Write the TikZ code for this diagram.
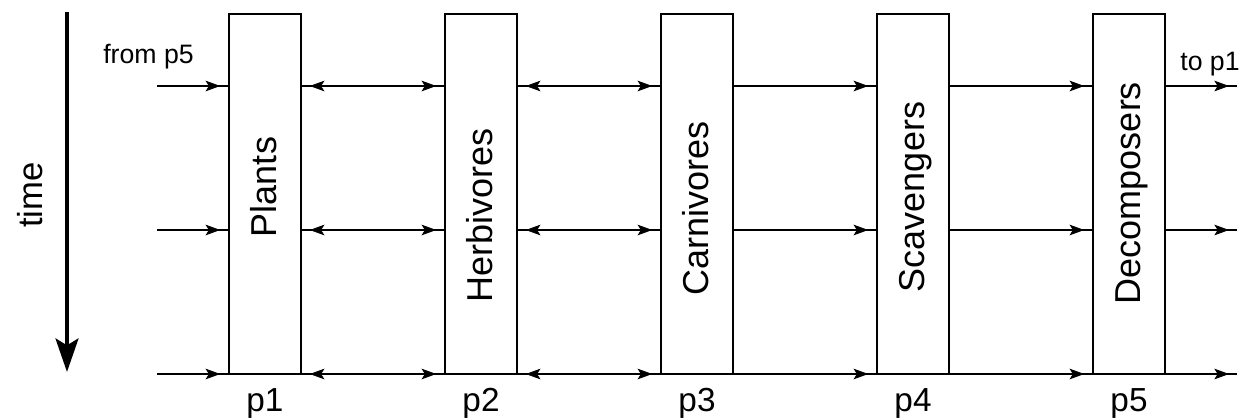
\documentclass[tikz,border=0pt]{standalone}
\usepackage{fontspec}
\setmainfont{Liberation Sans}
\usetikzlibrary{arrows.meta,decorations.markings}
\begin{document}
\begin{tikzpicture}[x=0.75pt,y=-0.75pt,
  box/.style={draw,line width=1.2pt,minimum width=54pt,minimum height=270pt,inner sep=0pt},
  lab/.style={font=\fontsize{27}{27}\selectfont,rotate=90,anchor=base,inner sep=0pt},
  plab/.style={font=\fontsize{25}{25}\selectfont,anchor=base,inner sep=0pt},
  small/.style={font=\fontsize{20}{20}\selectfont,anchor=base,inner sep=0pt},
  conn/.style={line width=1.2pt},
  tipE/.style={conn,postaction={decorate,decoration={markings,
     mark=at position -6pt with {\arrow{Stealth[length=11pt,width=8pt,inset=2.5pt,line width=0.6pt]}}}}},
  tipB/.style={conn,postaction={decorate,decoration={markings,
     mark=at position 6pt with {\arrowreversed{Stealth[length=11pt,width=8pt,inset=2.5pt,line width=0.6pt]}},
     mark=at position -6pt with {\arrow{Stealth[length=11pt,width=8pt,inset=2.5pt,line width=0.6pt]}}}}}
]
\useasboundingbox (0,0) rectangle (1245,419);

% time arrow
\coordinate (t0) at (67,12);
\coordinate (t1) at (67,372);
\draw[line width=3.6pt,-{Stealth[length=25pt,width=17pt,inset=5pt]}] (t0) -- (t1);
\node[lab,font=\fontsize{26}{26}\selectfont] (time) at (42,195) {time};

% boxes
\node[box] (b1) at (265,194) {};
\node[box] (b2) at (481,194) {};
\node[box] (b3) at (697,194) {};
\node[box] (b4) at (913,194) {};
\node[box] (b5) at (1129,194) {};

\node[lab] (l1) at (276,187) {Plants};
\node[lab] (l2) at (492,215) {Herbivores};
\node[lab] (l3) at (708.5,208) {Carnivores};
\node[lab] (l4) at (924.5,197) {Scavengers};
\node[lab] (l5) at (1140,193) {Decomposers};

\node[plab] (p1) at (265,411) {p1};
\node[plab] (p2) at (481,411) {p2};
\node[plab] (p3) at (697,411) {p3};
\node[plab] (p4) at (913,411) {p4};
\node[plab] (p5) at (1129,411) {p5};

\node[small] (from) at (148.5,63) {from p5};
\node[small] (to) at (1210,70) {to p1};

% rows
\foreach \r/\y in {1/86,2/230,3/374}{
  \coordinate (in\r) at (157,\y);
  \coordinate (out\r) at (1237,\y);
  \coordinate (r\r) at (0,\y);
  \draw[tipE] (in\r) -- (b1.west |- r\r);
  \draw[tipB] (b1.east |- r\r) -- (b2.west |- r\r);
  \draw[tipB] (b2.east |- r\r) -- (b3.west |- r\r);
  \draw[tipE] (b3.east |- r\r) -- (b4.west |- r\r);
  \draw[tipE] (b4.east |- r\r) -- (b5.west |- r\r);
  \draw[tipE] (b5.east |- r\r) -- (out\r);
}
\end{tikzpicture}
\end{document}
